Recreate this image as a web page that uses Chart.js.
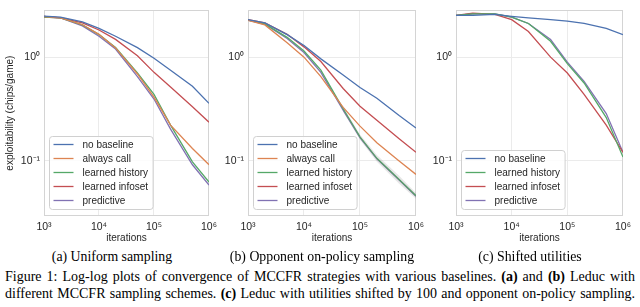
<!DOCTYPE html>
<html><head><meta charset="utf-8">
<script src="https://cdn.jsdelivr.net/npm/chart.js@4.4.1/dist/chart.umd.min.js"></script>
<style>
html,body{margin:0;padding:0;background:#fff;}
body{width:640px;height:307px;position:relative;overflow:hidden;font-family:"Liberation Serif","Times New Roman",serif;color:#000;}
.pane{position:absolute;top:0;height:246px;}
canvas{display:block;}
.sub{position:absolute;top:249px;font-size:13.8px;white-space:nowrap;transform:translateX(-50%);}
.cap{position:absolute;left:5px;width:630px;font-size:14px;line-height:17px;text-align:justify;text-align-last:justify;white-space:nowrap;}
.cap span{display:inline;}
</style>
</head><body>
<div class="pane" style="left:0;width:222px"><canvas id="ca" width="222" height="246"></canvas></div>
<div class="pane" style="left:215px;width:214px"><canvas id="cb" width="214" height="246"></canvas></div>
<div class="pane" style="left:423px;width:213px"><canvas id="cc" width="213" height="246"></canvas></div>
<div class="sub" style="left:112px">(a) Uniform sampling</div>
<div class="sub" style="left:322px">(b) Opponent on-policy sampling</div>
<div class="sub" style="left:530px">(c) Shifted utilities</div>
<div class="cap" id="cap1" style="top:268px">Figure 1: Log-log plots of convergence of MCCFR strategies with various baselines. <b>(a)</b> and <b>(b)</b> Leduc with</div>
<div class="cap" id="cap2" style="top:285px">different MCCFR sampling schemes. <b>(c)</b> Leduc with utilities shifted by 100 and opponent on-policy sampling.</div>
<script>
// ---------- data ----------
const iterations = [1e3, 2e3, 5e3, 1e4, 2e4, 5e4, 1e5, 2e5, 5e5, 1e6];
const xTickValues = [1e3, 1e4, 1e5, 1e6];
const xTickLabels = ['10³', '10⁴', '10⁵', '10⁶'];
const yTickValues = [0.1, 1];
const yTickLabels = ['10⁻¹', '10⁰'];
const yMin = 0.0293, yMax = 2.87;

const seriesNames = ['no baseline', 'always call', 'learned history', 'learned infoset', 'predictive'];

// (a) Uniform sampling
const aNoBaseline     = [2.52, 2.47, 2.22, 1.92, 1.61, 1.25, 0.985, 0.756, 0.528, 0.361];
const aAlwaysCall     = [2.50, 2.42, 2.08, 1.68, 1.24, 0.694, 0.414, 0.222, 0.132, 0.0918];
const aLearnedHistory = [2.47, 2.42, 2.07, 1.67, 1.25, 0.709, 0.441, 0.222, 0.098, 0.0624];
const aLearnedInfoset = [2.47, 2.43, 2.17, 1.85, 1.50, 1.04, 0.72, 0.52, 0.335, 0.237];
const aPredictive     = [2.50, 2.42, 2.03, 1.61, 1.21, 0.655, 0.397, 0.203, 0.0918, 0.0585];

// (b) Opponent on-policy sampling
const bNoBaseline     = [2.33, 2.17, 1.67, 1.31, 0.972, 0.679, 0.513, 0.405, 0.275, 0.208];
const bAlwaysCall     = [2.30, 2.07, 1.39, 1.01, 0.655, 0.33, 0.217, 0.15, 0.10, 0.074];
const bLearnedHistory = [2.31, 2.12, 1.57, 1.16, 0.756, 0.32, 0.171, 0.106, 0.066, 0.046];
const bLearnedInfoset = [2.33, 2.17, 1.68, 1.27, 0.917, 0.502, 0.338, 0.247, 0.164, 0.121];
const bPredictive     = [2.31, 2.10, 1.53, 1.12, 0.72, 0.31, 0.168, 0.105, 0.0655, 0.0455];
const bBandUpper      = [null, null, null, null, null, 0.335, 0.18, 0.114, 0.072, 0.049];
const bBandLower      = [null, null, null, null, null, 0.30, 0.16, 0.098, 0.060, 0.043];

// (c) Shifted utilities
const cNoBaseline     = [2.56, 2.56, 2.62, 2.51, 2.42, 2.33, 2.26, 2.14, 1.92, 1.67];
const cLearnedHistory = [2.56, 2.65, 2.65, 2.47, 2.14, 1.44, 0.873, 0.568, 0.263, 0.109];
const cLearnedInfoset = [2.56, 2.69, 2.62, 2.33, 1.79, 1.01, 0.709, 0.441, 0.222, 0.121];
const cPredictive     = [2.56, 2.65, 2.65, 2.47, 2.14, 1.50, 0.904, 0.588, 0.287, 0.121];

const colors = {
  'no baseline': '#4C72B0', 'always call': '#DD8452', 'learned history': '#55A868',
  'learned infoset': '#C44E52', 'predictive': '#8172B3'
};

// ---------- helpers ----------
const FONT = '"Liberation Sans", Arial, Helvetica, sans-serif';
const TXT = '#262626';
Chart.defaults.font.family = FONT;
Chart.defaults.font.size = 10;
Chart.defaults.color = TXT;

const pts = arr => iterations.map((x, i) => ({x: x, y: arr[i]}));
const line = (name, arr) => ({
  label: name, data: pts(arr), borderColor: colors[name], backgroundColor: colors[name],
  borderWidth: 1.3, pointRadius: 0, tension: 0, fill: false
});
const lookup = (vals, labels) => v => {
  const i = vals.findIndex(t => Math.abs(t - v) / t < 1e-6);
  return i >= 0 ? labels[i] : '';
};

const framePlugin = {
  id: 'frame',
  beforeDatasetsDraw(chart) {
    const {ctx, chartArea: a} = chart;
    ctx.save();
    ctx.strokeStyle = '#d4d4d4';
    ctx.lineWidth = 1;
    ctx.strokeRect(Math.round(a.left) + 0.5, Math.round(a.top) + 0.5,
                   Math.round(a.right - a.left) - 1, Math.round(a.bottom - a.top) - 1);
    ctx.restore();
  }
};

const legendPlugin = {
  id: 'panelLegend',
  afterDatasetsDraw(chart) {
    const {ctx, chartArea: a} = chart;
    const items = chart.data.datasets.filter(d => !d.isBand);
    ctx.save();
    ctx.font = '10px ' + FONT;
    const tw = Math.max(...items.map(d => ctx.measureText(d.label).width));
    const rowH = 14;
    const w = 33 + tw + 5, h = items.length * rowH + 3;
    const x0 = Math.round(a.left) + 5.5, y0 = Math.round(a.bottom) - 7 - h + 0.5;
    ctx.beginPath();
    if (ctx.roundRect) ctx.roundRect(x0, y0, w, h, 3); else ctx.rect(x0, y0, w, h);
    ctx.fillStyle = 'rgba(255,255,255,0.85)';
    ctx.fill();
    ctx.strokeStyle = '#d0d0d0';
    ctx.lineWidth = 1;
    ctx.stroke();
    items.forEach((d, i) => {
      const cy = y0 + 8 + i * rowH;
      ctx.beginPath();
      ctx.strokeStyle = d.borderColor;
      ctx.lineWidth = 1.3;
      ctx.moveTo(x0 + 4, cy);
      ctx.lineTo(x0 + 24, cy);
      ctx.stroke();
      ctx.fillStyle = TXT;
      ctx.textBaseline = 'middle';
      ctx.textAlign = 'left';
      ctx.fillText(d.label, x0 + 33, cy + 0.5);
    });
    ctx.restore();
  }
};

function makeChart(id, datasets, yAxisWidth, yTitle) {
  return new Chart(document.getElementById(id), {
    type: 'line',
    data: {datasets: datasets},
    options: {
      responsive: false, animation: false, devicePixelRatio: 1,
      layout: {padding: {left: 0, right: 12, top: 3, bottom: 0}},
      plugins: {legend: {display: false}, tooltip: {enabled: false}},
      scales: {
        x: {
          type: 'logarithmic', min: 1e3, max: 1e6,
          afterBuildTicks: s => { s.ticks = xTickValues.map(v => ({value: v})); },
          afterFit: s => { s.height = 30; },
          ticks: {callback: lookup(xTickValues, xTickLabels), padding: 5, maxRotation: 0, autoSkip: false, color: TXT, font: {size: 10.5}},
          grid: {color: '#ebebeb', lineWidth: 1, drawTicks: false},
          border: {display: false},
          title: {display: true, text: 'iterations', color: TXT, font: {size: 10}, padding: {top: 0, bottom: 2}}
        },
        y: {
          type: 'logarithmic', min: yMin, max: yMax,
          afterBuildTicks: s => { s.ticks = yTickValues.map(v => ({value: v})); },
          afterFit: s => { s.width = yAxisWidth; },
          ticks: {callback: lookup(yTickValues, yTickLabels), padding: 4, autoSkip: false, color: TXT, font: {size: 10.5}},
          grid: {color: '#ebebeb', lineWidth: 1, drawTicks: false},
          border: {display: false},
          title: {display: !!yTitle, text: yTitle || '', color: TXT, font: {size: 10}, padding: {top: 4, bottom: 0}}
        }
      }
    },
    plugins: [framePlugin, legendPlugin]
  });
}

makeChart('ca', [
  line('no baseline', aNoBaseline),
  line('always call', aAlwaysCall),
  line('learned history', aLearnedHistory),
  line('learned infoset', aLearnedInfoset),
  line('predictive', aPredictive)
], 44, 'exploitability (chips/game)');

makeChart('cb', [
  {label: 'band-upper', isBand: true, data: pts(bBandUpper), borderWidth: 0, pointRadius: 0, borderColor: 'rgba(0,0,0,0)', fill: false, spanGaps: false},
  {label: 'band-lower', isBand: true, data: pts(bBandLower), borderWidth: 0, pointRadius: 0, borderColor: 'rgba(0,0,0,0)', backgroundColor: 'rgba(120,120,120,0.18)', fill: '-1', spanGaps: false},
  line('no baseline', bNoBaseline),
  line('always call', bAlwaysCall),
  line('learned history', bLearnedHistory),
  line('learned infoset', bLearnedInfoset),
  line('predictive', bPredictive)
], 33, null);

makeChart('cc', [
  line('no baseline', cNoBaseline),
  line('learned history', cLearnedHistory),
  line('learned infoset', cLearnedInfoset),
  line('predictive', cPredictive)
], 33, null);
</script>
</body></html>
